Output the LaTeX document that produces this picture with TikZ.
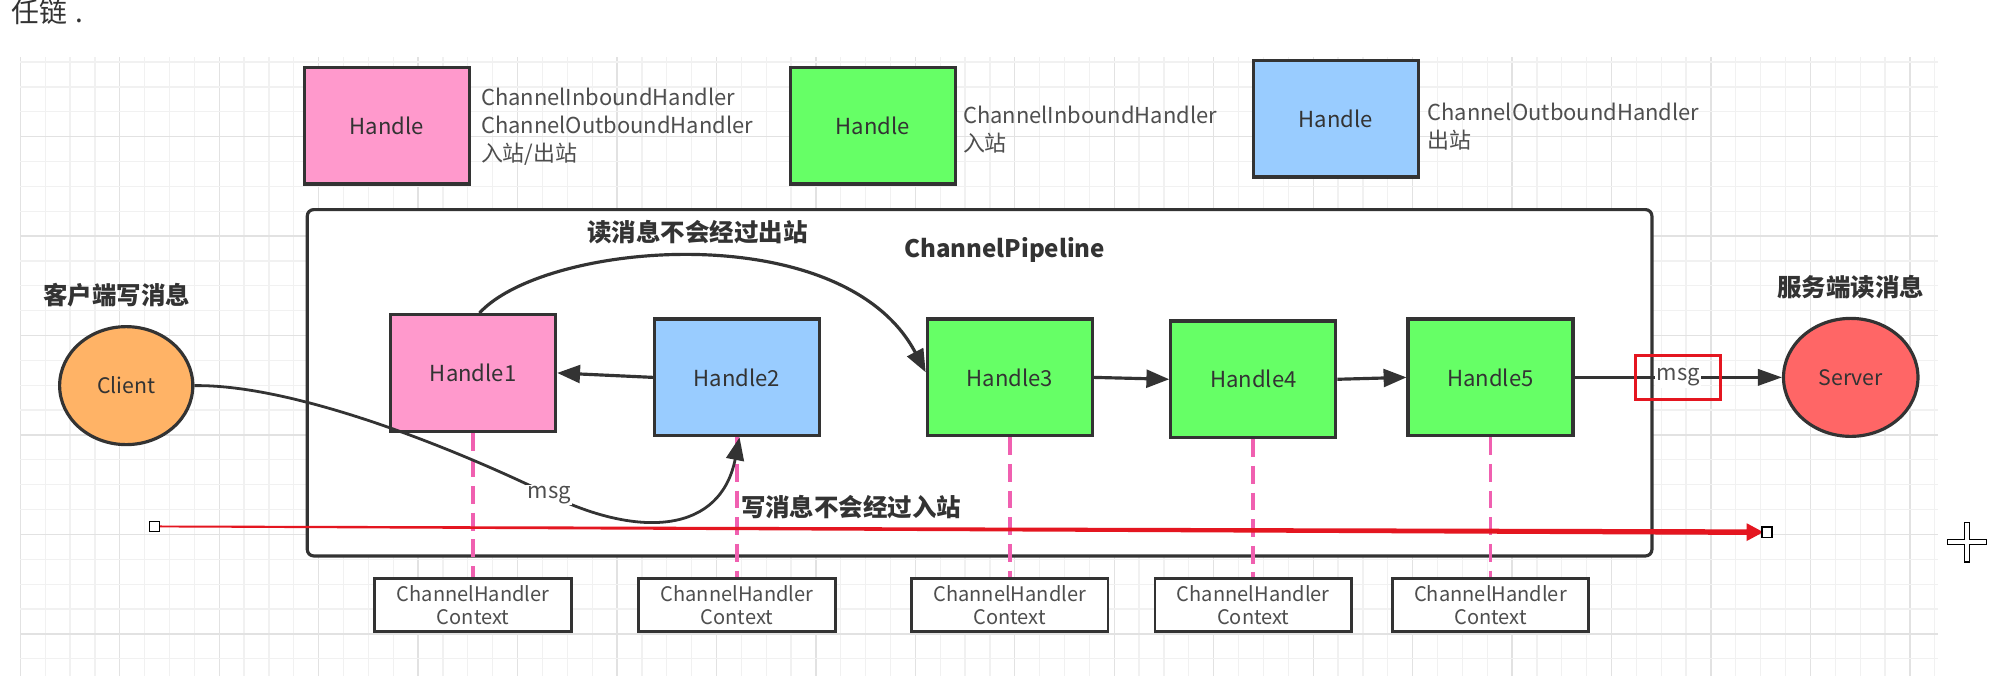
\documentclass[tikz,border=0pt]{standalone}
\usepackage{fontspec}
\setmainfont{Noto Sans CJK SC}
\usetikzlibrary{arrows.meta,shapes.geometric,calc}
\definecolor{dk}{RGB}{51,51,51}
\definecolor{txtgray}{RGB}{78,78,78}
\definecolor{pinkfill}{RGB}{255,153,204}
\definecolor{greenfill}{RGB}{102,255,102}
\definecolor{bluefill}{RGB}{153,204,255}
\definecolor{orangefill}{RGB}{255,179,102}
\definecolor{serverfill}{RGB}{255,102,102}
\definecolor{pinkline}{RGB}{240,96,176}
\definecolor{redl}{RGB}{228,22,32}
\definecolor{gridmin}{RGB}{241,241,241}
\definecolor{gridmaj}{RGB}{226,226,226}
\tikzset{
  hbox/.style={draw=dk, line width=2.5pt, minimum width=130pt, minimum height=92pt, inner sep=0pt, text=dk, font=\fontsize{17.4}{22}\selectfont},
  ctxbox/.style={draw=dk, line width=2.2pt, fill=white, minimum width=155pt, minimum height=42pt, inner sep=0pt, align=center, text=txtgray, font=\fontsize{15.8}{18}\selectfont},
  circ/.style={ellipse, draw=dk, line width=2.5pt, inner sep=0pt, text=dk, font=\fontsize{16.8}{22}\selectfont},
  lbl/.style={inner sep=0pt, align=left, text=txtgray, font=\fontsize{17.3}{22}\selectfont},
  titlecjk/.style={inner sep=0pt, text=dk, font=\bfseries\fontsize{19.3}{22}\selectfont},
  titlelat/.style={inner sep=0pt, text=dk, font=\bfseries\fontsize{19}{22}\selectfont},
  conn/.style={draw=dk, line width=2.5pt, -{Triangle[length=18pt,width=14pt]}},
  pdash/.style={draw=pinkline, line width=3pt, dash pattern=on 14pt off 7pt},
  msgl/.style={fill=white, inner sep=1pt, text=txtgray, font=\fontsize{17.4}{22}\selectfont},
  selh/.style={draw=black, fill=white, line width=1pt, minimum size=8pt, inner sep=0pt}
}
\begin{document}
\begin{tikzpicture}[x=1pt,y=-1pt]
\useasboundingbox (0,0) rectangle (1568,533);
\fill[white] (0,0) rectangle (1568,533);
% grid
\foreach \k in {0,...,77}{
  \pgfmathtruncatemacro\m{mod(\k,4)}
  \ifnum\m=0 \def\gc{gridmaj}\else\def\gc{gridmin}\fi
  \draw[\gc, line width=1pt] ({16+19.6*\k},45) -- ({16+19.6*\k},533);
}
\foreach \k in {-3,...,21}{
  \pgfmathtruncatemacro\m{mod(\k+8,4)}
  \ifnum\m=0 \def\gc{gridmaj}\else\def\gc{gridmin}\fi
  \draw[\gc, line width=1pt] (16,{107.7+19.6*\k}) -- (1528,{107.7+19.6*\k});
}
% top text
\node[anchor=base west, inner sep=0pt, text=dk, font=\fontsize{22}{22}\selectfont] (toptext) at (9,17.5) {任链\hspace{6pt}.};
% legend
\node[hbox, fill=pinkfill] (lp) at (305,99) {Handle};
\node[lbl, anchor=west] (lpt) at (379,100) {ChannelInboundHandler\\ChannelOutboundHandler\\入站/出站};
\node[hbox, fill=greenfill] (lg) at (688,99) {Handle};
\node[lbl, anchor=west] (lgt) at (759,102) {ChannelInboundHandler\\入站};
\node[hbox, fill=bluefill] (lb) at (1053,93.5) {Handle};
\node[lbl, anchor=west] (lbt) at (1125,100) {ChannelOutboundHandler\\出站};
% pipeline container
\node[draw=dk, line width=2.5pt, fill=white, rounded corners=5pt, minimum width=1060pt, minimum height=273pt, anchor=north west, inner sep=0pt] (pipe) at (241,164) {};
\node[titlelat] (tpipe) at (792,197) {ChannelPipeline};
\node[titlecjk] (tread) at (550,183) {读消息不会经过出站};
\node[titlecjk] (twrite) at (671,400) {写消息不会经过入站};
\node[titlecjk] (tclient) at (92,233) {客户端写消息};
\node[titlecjk] (tserver) at (1459,226) {服务端读消息};
% handlers
\node[hbox, fill=pinkfill] (h1) at (373,294) {Handle1};
\node[hbox, fill=bluefill] (h2) at (581,297.5) {Handle2};
\node[hbox, fill=greenfill] (h3) at (796,297.5) {Handle3};
\node[hbox, fill=greenfill] (h4) at (988,299) {Handle4};
\node[hbox, fill=greenfill] (h5) at (1175,297.5) {Handle5};
% contexts
\node[ctxbox] (c1) at (373,477) {ChannelHandler\\Context};
\node[ctxbox] (c2) at (581,477) {ChannelHandler\\Context};
\node[ctxbox] (c3) at (796,477) {ChannelHandler\\Context};
\node[ctxbox] (c4) at (988,477) {ChannelHandler\\Context};
\node[ctxbox] (c5) at (1175,477) {ChannelHandler\\Context};
\foreach \i in {1,...,5}{
  \draw[pdash] (h\i.south) -- (c\i.north);
}
% client / server
\node[circ, fill=orangefill, minimum width=105pt, minimum height=93pt] (client) at (99.5,304) {Client};
\node[circ, fill=serverfill, minimum width=106pt, minimum height=93pt] (server) at (1459,297.5) {Server};
% connectors
\draw[conn] (h2.west) -- (h1.east);
\draw[conn] (h3.east) -- (h4.west);
\draw[conn] (h4.east) -- (h5.west);
\draw[conn, line width=1.8pt, -{Triangle[length=19pt,width=13pt]}] (h5.east) -- node[msgl] (m2) {msg} (server.west);
\node[draw=redl, line width=2.5pt, minimum width=67pt, minimum height=35pt, inner sep=0pt] (rbox) at (m2) {};
\draw[conn] ($(h1.north)+(5,0)$) .. controls (430,190) and (665,170) .. ($(h3.west)+(0,-4)$);
\draw[conn, line width=2.2pt] (client.east) .. controls (225,303) and (340,345) .. (433,390) coordinate (mp) .. controls (505,425) and (568,420) .. ($(h2.south)+(2,0)$);
\node[msgl] (m1) at (mp) {msg};
% red arrow
\coordinate (rs) at (122,415);
\coordinate (re) at (1393,419.5);
\fill[redl] ($(rs)+(0,-0.75)$) -- ($(re)+(-16,-2.2)$) -- ($(re)+(-16,-7)$) -- ($(re)+(-3,0)$) -- ($(re)+(-16,7)$) -- ($(re)+(-16,2.2)$) -- ($(rs)+(0,0.75)$) -- cycle;
\node[selh] (rsq) at (rs) {};
\node[selh] (req) at (re) {};
% cursor
\begin{scope}[shift={(1550.5,427.5)}]
\draw[black, fill=white, line width=0.9pt] (-1.9,-15.5) -- (1.9,-15.5) -- (1.9,-1.9) -- (15.5,-1.9) -- (15.5,1.9) -- (1.9,1.9) -- (1.9,15.5) -- (-1.9,15.5) -- (-1.9,1.9) -- (-15.5,1.9) -- (-15.5,-1.9) -- (-1.9,-1.9) -- cycle;
\end{scope}
\end{tikzpicture}
\end{document}
